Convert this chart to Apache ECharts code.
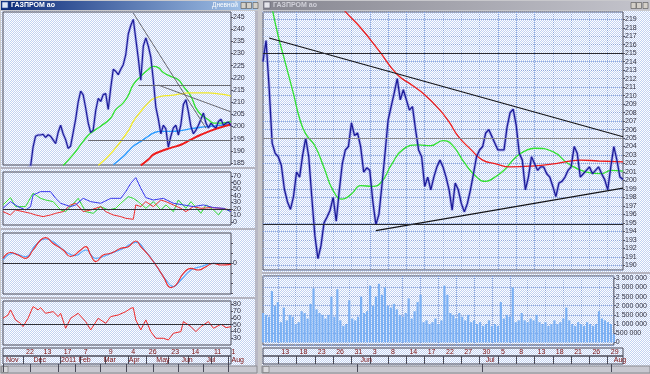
<!DOCTYPE html>
<html><head><meta charset="utf-8">
<script src="https://cdn.jsdelivr.net/npm/echarts@6/dist/echarts.min.js"></script>
<style>html,body{margin:0;padding:0;background:#c8c8c8}#c{width:650px;height:374px}</style>
</head><body><div id="c"></div><script>
// ---------- DATA ----------
// Left (daily) window: 92 samples, ~2 trading days each (Nov 2010 .. Aug 2011)
const leftPrice = [178,179,180,179,181,180,182,181,180,182,183,183.5,191.5,196,196.5,196.5,196.8,195.5,196.6,196,194.5,193,
  197.5,200.5,197,194.6,191,192,197.5,203,210,214.5,213,207.6,201.5,197.5,198.5,206.5,211.5,210.3,213.1,213.5,207,215.8,
  223.5,222.7,221.3,223.5,225.4,229.5,238,241.5,244,236,228,219,233,236.4,233,228.5,219,208,203,197,200.5,199,191.5,196,
  199.4,200.5,196.5,200.8,209,211,206,200,197,198.5,200.5,203,205.5,201.4,199.4,201.4,200.1,199.4,202.1,203,200.5,201.4,201.8,200.31];
const leftMaGreen  = [[24,184],[28,188.4],[32,193.9],[35,197.3],[39,200.1],[43,203.5],[45,206.9],[48,209.7],[50,212.8],[52,217.2],[55,220.6],[58,223.4],[60,224.7],[62,224.2],[64,222.2],[67,220.6],[70,219.2],[72,216.5],[75,212.4],[77,207.6],[79,204.9],[82,202.8],[84,201.4],[87,201.4],[90,201.8],[91,202.1]];
const leftMaYellow = [[38,184],[44,190],[50,198.2],[52,202.1],[55,206.2],[58,209.7],[60,211.4],[63,212.4],[67,212.8],[71,213.4],[74,213.8],[78,213.8],[82,213.8],[86,213.4],[90,212.8],[91,212.4]];
const leftMaBlue   = [[44,184.3],[48,187.7],[50,189.8],[52,191.9],[55,193.9],[58,196],[60,197.3],[63,198],[67,198],[71,198.3],[75,199.1],[79,199.7],[83,200.1],[87,200.5],[91,201.0]];
const leftMaRed    = [[55,184],[58,186.4],[60,188.4],[63,189.8],[67,191.2],[71,192.5],[75,194.6],[79,196.6],[83,198.3],[87,199.7],[91,200.8]];
const leftLines = [[52,246.6,81,199.3],[62,217.0,91,206.0],[54,217.0,91,217.0],[34,194.4,91,194.4]];
const adxBlue  = [[0,20.8],[3,31],[6,23.4],[9,18.3],[11,23.4],[12,41],[15,46.2],[19,46.2],[21,36],[23,28.5],[27,23.4],[29,26],[32,36],[35,31],[39,28.5],[43,36],[47,36],[49,46.2],[51,58.9],[53,67.5],[55,51.3],[57,37.1],[60,33.5],[64,36],[68,28.5],[72,26],[76,23.4],[80,26],[84,21.9],[88,20.8],[91,15.8]];
const adxGreen = [[0,26],[3,37.1],[5,23.4],[9,23.4],[12,43.7],[15,36],[17,33.5],[20,31],[23,18.3],[25,15.8],[27,23.4],[30,36],[33,15.8],[36,13.2],[39,23.4],[42,18.3],[45,20.8],[47,28.5],[50,38.6],[52,36],[54,31],[57,20.8],[60,31],[63,18.3],[65,26],[68,15.8],[70,33.5],[73,20.8],[75,31],[79,13.2],[81,26],[84,18.3],[86,10.7],[88,20.8],[91,15.8]];
const adxRed   = [[0,15.8],[3,10.7],[5,18.3],[8,15.8],[11,13.2],[13,10.7],[16,8.2],[19,10.7],[21,13.2],[24,15.8],[27,26],[29,28.5],[32,15.8],[35,18.3],[39,23.4],[41,15.8],[44,10.7],[47,8.2],[49,5.6],[52,4.1],[53,26],[55,23.4],[57,31],[60,23.4],[63,33.5],[65,31],[68,26],[71,20.8],[73,15.8],[76,23.4],[79,20.8],[83,21.9],[87,20.8],[91,18.3]];
const macdRed  = [[0,0.93],[3,2.1],[6,1.6],[9,0.93],[12,2.6],[15,4.6],[17,5.07],[20,3.9],[24,2.6],[27,1.3],[31,2.6],[33,3.27],[35,1.6],[37,0.27],[40,1.6],[43,1.93],[47,2.93],[50,3.27],[53,4.4],[55,3.27],[58,1.6],[61,-0.4],[64,-2.73],[67,-4.93],[69,-4.4],[72,-2.07],[75,-1.07],[78,-1.4],[81,-0.73],[84,-0.07],[87,-0.4],[91,-0.27]];
const macdBlue = [[0,0.6],[4,1.93],[9,1.27],[13,3.6],[17,4.8],[21,3.9],[25,2.27],[29,1.47],[33,2.6],[37,0.93],[43,1.93],[48,2.93],[53,4.13],[57,2.27],[61,-0.4],[65,-3.4],[68,-4.73],[71,-3.4],[75,-1.4],[79,-0.73],[84,-0.07],[91,-0.13]];
const rsiRed   = [[0,59.4],[2,64.3],[3,71.7],[5,57],[7,52],[8,47.2],[10,59.4],[12,76.6],[14,71.7],[15,75.1],[17,66.8],[20,69.2],[22,61.9],[23,66.8],[25,44.7],[27,59.4],[30,66.8],[33,54.5],[35,42.3],[38,59.4],[41,52],[43,61.9],[46,64.3],[49,69.2],[51,74.1],[52,75.1],[53,57],[55,42.3],[57,57],[59,39.8],[61,30],[64,30],[66,27.5],[68,37.3],[71,39.8],[72,54.5],[75,47.2],[77,39.8],[79,47.2],[82,54.5],[84,44.7],[87,50.6],[89,45.7],[91,47]];
const leftDayTicks = [8,15,23,31,41,50,57,66,74,83,90];
const leftDayLabels = ['22','13','17','7','9','4','26','23','14','11','1'];
const leftMonTicks = [0,11,22,29,39,49,60,70,80,90];
const leftMonLabels = ['Nov','Dec','2011','Feb','Mar','Apr','May','Jun','Jul','Aug'];

// Right (intraday) window: 119 samples, half a trading day each (May 11 .. Aug 2 2011)
const rightPrice = [214.0,216.5,211.0,204.4,203.2,202.8,201.8,199.0,197.5,196.6,198.1,201.0,200.4,203.0,205.0,202.8,198.0,193.5,190.8,192.3,
  195.0,195.7,196.5,198.0,195.2,198.8,202.0,203.6,204.0,206.8,205.3,205.6,204.0,201.0,201.5,201.2,197.5,194.8,196.0,199.5,
  203.2,207.1,208.7,210.3,212.0,209.5,210.7,209.5,208.3,208.7,206.0,203.6,202.8,199.3,200.4,198.9,200.4,201.6,202.4,201.6,
  200.4,198.9,196.5,199.7,198.9,197.3,196.3,197.3,198.9,200.8,202.8,203.6,204.0,205.6,206.0,205.2,204.4,203.6,203.6,203.6,
  206.3,208.0,208.4,206.5,203.2,202.4,198.9,200.4,202.8,202.0,201.2,201.6,201.6,200.8,200.4,199.3,198.1,199.7,199.9,200.4,
  201.2,201.6,204.0,203.2,200.4,200.8,201.2,201.6,200.8,201.2,201.6,200.8,200.1,198.9,201.6,204.0,202.4,200.4,200.13];
const rightMaRed   = [[24,221.3],[27,219.9],[32,218.0],[38,215.3],[44,212.5],[49,211.2],[53,210.1],[58,208.3],[61,206.9],[64,205.2],[68,203.7],[72,202.4],[76,202.0],[81,201.6],[88,201.7],[96,202.0],[104,202.4],[110,202.3],[118,202.2]];
const rightMaGreen = [[3,220.3],[5,217],[7,214.3],[10,210.2],[12,207.3],[14,205.5],[17,204.1],[20,201.5],[23,198.8],[26,197.8],[29,198.4],[32,199.4],[36,199.3],[39,199.9],[42,201.8],[46,203.7],[51,204.2],[55,204.1],[59,204.7],[62,204.2],[66,202.1],[70,200.4],[73,199.9],[76,200.4],[79,201.2],[83,202.8],[86,203.5],[89,203.8],[95,203.4],[100,202.0],[106,201.0],[111,200.8],[114,201.2],[118,201.1]];
const rightTrend = [[2,216.8,118,205.16],[37,194.1,118,199.1]];
const rightLevels = [215, 205, 194.8];
const rightVolume = [1.6,1.5,1.4,2.8,2.0,2.2,1.1,1.9,1.2,1.5,1.4,1.0,1.1,1.7,1.6,1.3,2.1,2.95,1.8,1.6,1.5,1.3,1.5,2.5,1.4,2.9,1.2,0.9,1.0,2.3,
  1.3,1.2,1.4,2.5,1.6,1.7,3.1,2.0,2.5,3.2,2.6,3.0,2.0,1.9,2.1,1.8,1.5,1.4,1.6,2.4,1.3,1.7,2.2,2.6,1.1,1.2,1.0,1.1,1.3,1.0,
  1.2,3.1,2.6,1.6,1.5,1.3,1.6,1.4,1.2,1.5,1.1,1.2,1.0,1.1,0.9,1.0,1.2,0.9,1.0,0.9,2.2,1.3,1.5,1.4,3.0,1.1,1.2,1.6,1.2,1.1,
  1.3,1.2,1.5,1.1,1.0,1.1,0.9,1.0,1.2,1.0,1.1,1.3,1.9,1.2,1.0,0.9,1.1,1.0,0.9,1.1,1.0,0.9,1.0,1.7,1.3,1.2,1.1,1.0,0.437];
const rightDayLabels = ['13','18','23','26','31','3','8','14','17','22','27','30','5','8','13','18','21','26','29'];
const rightDayTicks = rightDayLabels.map((_, k) => 5 + 6 * k);
const rightMonTicks = [31, 72, 114];
const rightMonLabels = ['Jun','Jul','Aug'];

// ---------- CHART ----------
const LN = leftPrice.length, RN = rightPrice.length;
const leftCats = Array.from({length: LN}, (_, i) => i);
const rightCats = Array.from({length: RN}, (_, i) => i);

const pc = document.createElement('canvas'); pc.width = 2; pc.height = 2;
const g = pc.getContext('2d');
g.fillStyle = '#ffffff'; g.fillRect(0, 0, 2, 2);
g.fillStyle = '#c2d2f2'; g.fillRect(1, 0, 1, 1); g.fillRect(0, 1, 1, 1);
const pattern = {image: pc, repeat: 'repeat'};

const FONT = 'Liberation Sans';
const labelColor = '#303040';
const frame = '#4a4a58';
const gridLine = '#8fa8dc';

const grids = [
  {left: 3, top: 12, width: 228, height: 153},
  {left: 3, top: 172, width: 228, height: 53},
  {left: 3, top: 233, width: 228, height: 61},
  {left: 3, top: 301, width: 228, height: 44},
  {left: 3, top: 348, width: 228, height: 8},
  {left: 3, top: 356, width: 228, height: 8},
  {left: 263, top: 12, width: 360, height: 258},
  {left: 263, top: 276, width: 360, height: 69},
  {left: 263, top: 348, width: 360, height: 8},
  {left: 263, top: 356, width: 360, height: 8}
].map(gr => Object.assign({show: true, borderColor: frame, borderWidth: 1, backgroundColor: 'transparent', containLabel: false}, gr));

function lookup(ticks, labels) { const m = {}; ticks.forEach((t, k) => m[t] = labels[k]); return m; }
const lDay = lookup(leftDayTicks, leftDayLabels), lMon = lookup(leftMonTicks, leftMonLabels);
const rDay = lookup(rightDayTicks, rightDayLabels), rMon = lookup(rightMonTicks, rightMonLabels);

function plainX(gi, cats, splitTicks) {
  return {type: 'category', gridIndex: gi, data: cats, boundaryGap: false, axisLine: {show: false}, axisTick: {show: false}, axisLabel: {show: false},
    splitLine: {show: !!splitTicks, interval: splitTicks ? (i) => splitTicks.includes(i) : 0, lineStyle: {color: gridLine, width: 1, type: [1, 1]}}};
}
function stripX(gi, cats, map) {
  const f = (i) => map[i] !== undefined;
  return {type: 'category', gridIndex: gi, data: cats, boundaryGap: false, position: 'top', axisLine: {show: false},
    axisTick: {show: true, inside: true, length: 8, interval: f, lineStyle: {color: frame}},
    axisLabel: {show: true, inside: true, interval: f, formatter: (v, i) => map[i] || '', align: 'left', verticalAlign: 'top', margin: 0,
      padding: [1, 0, 0, 3], fontSize: 7, fontFamily: FONT, color: '#7a1010'},
    splitLine: {show: false}};
}
function valY(gi, min, max, step, opts) {
  opts = opts || {};
  return {type: 'value', gridIndex: gi, position: 'right', min: min, max: max, minInterval: step, maxInterval: step, splitNumber: Math.round((max - min) / step),
    axisLine: {show: false}, axisTick: {show: true, length: 2, lineStyle: {color: '#505060'}},
    axisLabel: {show: true, showMinLabel: false, showMaxLabel: false, fontSize: 7, fontFamily: FONT, color: labelColor, margin: 2,
      formatter: opts.fmt || (v => String(v))},
    splitLine: {show: !!opts.split, lineStyle: {color: gridLine, width: 1, type: [1, 1]}}};
}
function hiddenY(gi) { return {type: 'value', gridIndex: gi, show: false, min: 0, max: 1}; }

const thousands = v => String(Math.round(v)).replace(/\B(?=(\d{3})+(?!\d))/g, ' ');

const xAxis = [
  plainX(0, leftCats), plainX(1, leftCats), plainX(2, leftCats), plainX(3, leftCats),
  stripX(4, leftCats, lDay), stripX(5, leftCats, lMon),
  plainX(6, rightCats, rightDayTicks), plainX(7, rightCats, rightDayTicks),
  stripX(8, rightCats, rDay), stripX(9, rightCats, rMon)
];
const yAxis = [
  valY(0, 184.17, 247.05, 5),
  valY(1, -4.57, 76.09, 10),
  valY(2, -6.2, 6, 2, {fmt: v => (Math.abs(v) < 1e-9 ? '0' : '')}),
  valY(3, 20.1, 84.85, 10),
  hiddenY(4), hiddenY(5),
  valY(6, 189.45, 219.86, 1, {split: true}),
  valY(7, -148000, 3626000, 500000, {split: true, fmt: thousands}),
  hiddenY(8), hiddenY(9)
];

function line(ax, data, color, width, smooth, extra) {
  return Object.assign({type: 'line', xAxisIndex: ax, yAxisIndex: ax, data: data, showSymbol: false, symbol: 'none', smooth: smooth || false,
    lineStyle: {color: color, width: width}, clip: true, animation: false, silent: true, z: 3}, extra || {});
}
function segs(list, style) {
  return list.map(s => [{coord: [s[0], s[1]], lineStyle: style}, {coord: [s[2], s[3]]}]);
}
function valueTag(v, text) {
  return {silent: true, symbol: ['none', 'none'], animation: false,
    data: [{yAxis: v, lineStyle: {opacity: 0}, label: {show: true, position: 'end', distance: 0, formatter: text, fontSize: 7, fontFamily: FONT,
      color: '#202030', backgroundColor: '#ffffff', borderColor: '#3a64c8', borderWidth: 1, padding: [1, 1, 0, 1]}}]};
}
function levelLine(v, color) {
  return {silent: true, symbol: ['none', 'none'], animation: false, label: {show: false},
    data: [{yAxis: v, lineStyle: {color: color, width: 1, type: 'solid'}}]};
}

const series = [
  // left price
  line(0, leftPrice, 'rgba(110,110,225,0.45)', 2.8, false, {z: 2, markLine: valueTag(200.31, '200.31')}),
  line(0, leftPrice, '#1c1c98', 1.2, false, {z: 4, markLine: {silent: true, symbol: ['none', 'none'], animation: false, label: {show: false},
    data: segs(leftLines, {color: '#6a6a72', width: 1, type: 'solid'})}}),
  line(0, leftMaGreen, '#2ee02e', 1.3, true),
  line(0, leftMaYellow, '#f2ea2a', 1.3, true),
  line(0, leftMaBlue, '#2a9aff', 1.4, true),
  line(0, leftMaRed, '#ee1c1c', 2, true),
  // ADX
  line(1, adxGreen, '#33dd33', 1, false),
  line(1, adxRed, '#ee3030', 1, false),
  line(1, adxBlue, '#3a3aee', 1, false, {markLine: levelLine(20, '#303038')}),
  // MACD
  line(2, macdBlue, '#5aaaff', 1.2, true, {markLine: levelLine(0, '#303038')}),
  line(2, macdRed, '#ee2a2a', 1.1, true),
  // RSI
  line(3, rsiRed, '#ee2a2a', 1, false, {markLine: levelLine(50, '#303038')}),
  // right price
  line(6, rightPrice, 'rgba(110,110,225,0.45)', 3, false, {z: 2, markLine: valueTag(200.13, '200.13')}),
  line(6, rightPrice, '#1c1c98', 1.3, false, {z: 4, markLine: {silent: true, symbol: ['none', 'none'], animation: false, label: {show: false},
    data: segs(rightTrend, {color: '#141418', width: 1.2, type: 'solid'}).concat(
      rightLevels.map((v, k) => [{coord: [0, v], lineStyle: {color: k === 1 ? '#8a8a90' : '#2a2a30', width: 1.2, type: 'solid'}}, {coord: [RN - 1, v]}]))}}),
  line(6, rightMaGreen, '#30e030', 1.3, true),
  line(6, rightMaRed, '#ee1c1c', 1.3, true),
  // right volume
  {type: 'bar', xAxisIndex: 7, yAxisIndex: 7, data: rightVolume.map(v => v * 1e6), barWidth: 2.2, itemStyle: {color: '#7ab0f4'},
    animation: false, silent: true, clip: true, markLine: valueTag(437230, '437 230')}
];

const titleGrad = (c1, c2) => new echarts.graphic.LinearGradient(0, 0, 1, 0, [{offset: 0, color: c1}, {offset: 1, color: c2}]);
function buttons(x0) {
  return [0, 1, 2].map(k => ({type: 'rect', shape: {x: x0 + k * 5.5 + (k === 2 ? 1 : 0), y: 2.5, width: 5, height: 6},
    style: {fill: '#d4d0c8', stroke: '#505050', lineWidth: 0.6}, z: 21, silent: true}));
}
const graphic = [
  {type: 'rect', shape: {x: 0, y: 0, width: 650, height: 374}, style: {fill: '#c8c8cc'}, z: -20, silent: true},
  {type: 'rect', shape: {x: 1, y: 11, width: 256, height: 355}, style: {fill: pattern}, z: -19, silent: true},
  {type: 'rect', shape: {x: 262, y: 11, width: 388, height: 355}, style: {fill: pattern}, z: -19, silent: true},
  // panel splitters
  {type: 'rect', shape: {x: 1, y: 167, width: 256, height: 2}, style: {fill: '#b4b4c0'}, z: -18, silent: true},
  {type: 'rect', shape: {x: 1, y: 228, width: 256, height: 2}, style: {fill: '#b4b4c0'}, z: -18, silent: true},
  {type: 'rect', shape: {x: 1, y: 297, width: 256, height: 2}, style: {fill: '#b4b4c0'}, z: -18, silent: true},
  {type: 'rect', shape: {x: 262, y: 272, width: 388, height: 2}, style: {fill: '#b4b4c0'}, z: -18, silent: true},
  {type: 'rect', shape: {x: 255, y: 11, width: 3, height: 355}, style: {fill: '#b8b8c4'}, z: -18, silent: true},
  // bottom scrollbars
  {type: 'rect', shape: {x: 1, y: 366, width: 256, height: 7}, style: {fill: '#c8c8d0', stroke: '#8a8a90', lineWidth: 1}, z: -18, silent: true},
  {type: 'rect', shape: {x: 262, y: 366, width: 388, height: 7}, style: {fill: '#c8c8d0', stroke: '#8a8a90', lineWidth: 1}, z: -18, silent: true},
  {type: 'rect', shape: {x: 2, y: 366.5, width: 6, height: 6}, style: {fill: '#d8d8dc', stroke: '#707070', lineWidth: 0.6}, z: -17, silent: true},
  {type: 'rect', shape: {x: 263, y: 366.5, width: 6, height: 6}, style: {fill: '#d8d8dc', stroke: '#707070', lineWidth: 0.6}, z: -17, silent: true},
  // title bars
  {type: 'rect', shape: {x: 1, y: 1, width: 256, height: 9}, style: {fill: titleGrad('#0c2a78', '#a8c8ec')}, z: 20, silent: true},
  {type: 'rect', shape: {x: 263, y: 1, width: 386, height: 9}, style: {fill: titleGrad('#868690', '#c4c4cc')}, z: 20, silent: true},
  {type: 'rect', shape: {x: 2, y: 2, width: 6, height: 6}, style: {fill: '#dde6f6', stroke: '#3050a0', lineWidth: 0.6}, z: 21, silent: true},
  {type: 'rect', shape: {x: 264, y: 2, width: 6, height: 6}, style: {fill: '#e4e4ea', stroke: '#606070', lineWidth: 0.6}, z: 21, silent: true},
  {type: 'text', x: 11, y: 1.5, style: {text: 'ГАЗПРОМ ао', fill: '#ffffff', font: 'bold 7px ' + FONT}, z: 21, silent: true},
  {type: 'text', x: 212, y: 2, style: {text: 'Дневной', fill: '#ffffff', font: '6.5px ' + FONT}, z: 22, silent: true},
  {type: 'text', x: 273, y: 1.5, style: {text: 'ГАЗПРОМ ао', fill: '#d0d0d8', font: 'bold 7px ' + FONT}, z: 21, silent: true}
].concat(buttons(241), buttons(631));

const chart = echarts.init(document.getElementById('c'), null, {renderer: 'canvas'});
chart.setOption({animation: false, backgroundColor: 'transparent', grid: grids, xAxis: xAxis, yAxis: yAxis, series: series, graphic: graphic});
</script></body></html>
